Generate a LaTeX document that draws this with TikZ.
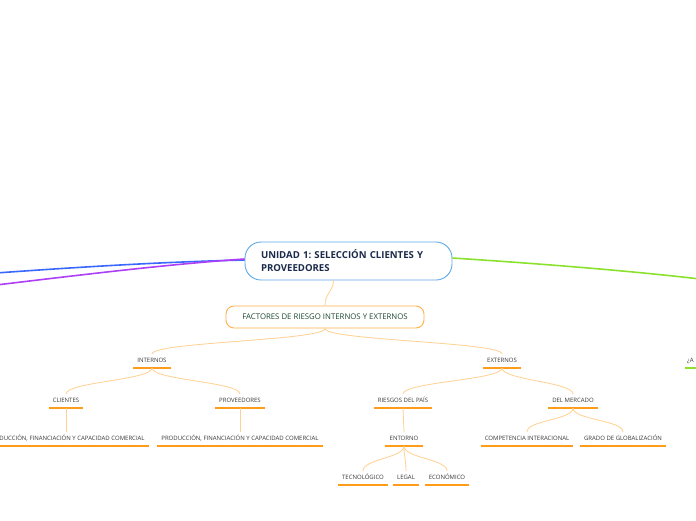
\documentclass[tikz,border=0pt]{standalone}
\usepackage{fontspec}
\setmainfont{Open Sans}
\usepackage{tikz}
\usetikzlibrary{positioning}
\frenchspacing
\definecolor{MMBlue}{HTML}{5DA9E9}
\definecolor{MMNavy}{HTML}{1B2A4A}
\definecolor{MMOrange}{HTML}{FF9C1A}
\definecolor{MMLight}{HTML}{FFD08F}
\definecolor{MMGreenText}{HTML}{1D4A33}
\definecolor{MMText}{HTML}{383838}
\definecolor{MMLineBlue}{HTML}{3A68FF}
\definecolor{MMLinePurple}{HTML}{AE3FF7}
\definecolor{MMLineGreen}{HTML}{8BE22E}

\begin{document}
\begin{tikzpicture}[
    x=1pt, y=-1pt,
    rootbox/.style={
      draw=MMBlue,
      fill=white,
      line width=0.9pt,
      rounded corners=16pt,
      minimum height=38pt,
      text width=175pt,
      inner xsep=16pt,
      align=left,
      text=MMNavy,
      font=\bfseries\fontsize{9.6}{13}\selectfont
    },
    mainbox/.style={
      draw=MMOrange!80,
      fill=white,
      line width=0.9pt,
      rounded corners=8pt,
      minimum width=198pt,
      minimum height=22pt,
      align=center,
      text=MMGreenText,
      font=\fontsize{7.8}{9}\selectfont
    },
    topic/.style={
      anchor=south,
      text=MMText,
      text height=4.3pt,
      text depth=2.3pt,
      inner xsep=4pt,
      inner ysep=3.5pt,
      font=\fontsize{6}{7}\selectfont
    },
    uline/.style={
      MMOrange,
      line width=1.4pt
    },
    link/.style={
      MMLight,
      line width=0.8pt
    },
    branch/.style={
      line width=1.6pt
    }
  ]
  \useasboundingbox (0,0) rectangle (696,520);

  % nodo central y factores
  \node[rootbox] (root) at (348.5,261) {UNIDAD 1: SELECCIÓN CLIENTES Y\\PROVEEDORES};
  \node[mainbox] (factores) at (325,317) {FACTORES DE RIESGO INTERNOS Y EXTERNOS};

  % ramas que salen del mapa
  \coordinate (izqa) at (-4,273);
  \coordinate (izqb) at (-4,285);
  \coordinate (der) at (700,279);
  \draw[branch, MMLineBlue] ([yshift=1pt]root.west) .. controls (160,262) and (80,267) .. (izqa);
  \draw[branch, MMLinePurple] ([yshift=2pt]root.west) .. controls (170,264) and (80,275) .. (izqb);
  \draw[branch, MMLineGreen] ([yshift=3pt]root.east) .. controls (560,265) and (640,272) .. (der);

  % primer nivel
  \node[topic] (internos) at (152,368) {INTERNOS};
  \node[topic] (externos) at (502,368) {EXTERNOS};
  \node[topic, anchor=south west, text width=30pt, align=left, inner xsep=2pt] (pregunta) at (685,368) {¿A};

  % internos
  \node[topic] (clientes) at (66,408) {CLIENTES};
  \node[topic] (proveedores) at (240,408) {PROVEEDORES};
  \node[topic] (prodcli) at (66,446) {PRODUCCIÓN, FINANCIACIÓN Y CAPACIDAD COMERCIAL};
  \node[topic] (prodprov) at (240,446) {PRODUCCIÓN, FINANCIACIÓN Y CAPACIDAD COMERCIAL};

  % externos
  \node[topic] (riesgos) at (403,408) {RIESGOS DEL PAÍS};
  \node[topic] (mercado) at (573,408) {DEL MERCADO};
  \node[topic] (entorno) at (404,446) {ENTORNO};
  \node[topic] (competencia) at (527,446) {COMPETENCIA INTERACIONAL};
  \node[topic] (grado) at (623,446) {GRADO DE GLOBALIZACIÓN};
  \node[topic] (tecno) at (363,485) {TECNOLÓGICO};
  \node[topic] (legal) at (406,485) {LEGAL};
  \node[topic] (economico) at (447,485) {ECONÓMICO};

  % subrayados
  \foreach \n in {internos, externos, clientes, proveedores, prodcli, prodprov,
                  riesgos, mercado, entorno, competencia, grado, tecno, legal, economico}
    \draw[uline] (\n.south west) -- (\n.south east);
  \draw[uline, MMLineGreen] (pregunta.south west) -- (pregunta.south east);

  % conexiones
  \draw[link] ([xshift=-15pt]root.south) .. controls +(0,10) and +(0,-12) .. (factores.north);
  \foreach \a/\b in {factores/internos, factores/externos,
                     internos/clientes, internos/proveedores,
                     clientes/prodcli, proveedores/prodprov,
                     externos/riesgos, externos/mercado,
                     riesgos/entorno, mercado/competencia, mercado/grado,
                     entorno/tecno, entorno/legal, entorno/economico}
    \draw[link] (\a.south) .. controls +(0,12) and +(0,-12) .. (\b.north);

\end{tikzpicture}
\end{document}
